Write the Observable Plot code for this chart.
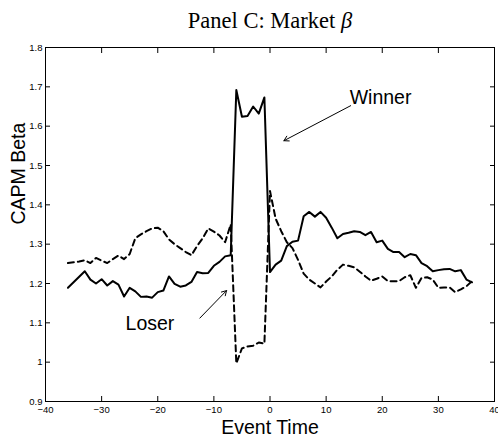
<!DOCTYPE html>
<html><head><meta charset="utf-8">
<script src="https://cdn.jsdelivr.net/npm/d3@7"></script>
<script src="https://cdn.jsdelivr.net/npm/@observablehq/plot@0.6"></script>
<style>body{margin:0;background:#fff} svg{display:block}</style>
</head><body><div id="chart"></div>
<script>
const titleText = "Panel C: Market β";
const xLabel = "Event Time";
const yLabel = "CAPM Beta";
const xTicks = [-40, -30, -20, -10, 0, 10, 20, 30, 40];
const yTicks = [0.9, 1.0, 1.1, 1.2, 1.3, 1.4, 1.5, 1.6, 1.7, 1.8];
const eventTime = [-36,-35,-34,-33,-32,-31,-30,-29,-28,-27,-26,-25,-24,-23,-22,-21,-20,-19,-18,-17,-16,-15,-14,-13,-12,-11,-10,-9,-8,-7,-6,-5,-4,-3,-2,-1,0,1,2,3,4,5,6,7,8,9,10,11,12,13,14,15,16,17,18,19,20,21,22,23,24,25,26,27,28,29,30,31,32,33,34,35,36];
const winner = [1.189,1.203,1.217,1.231,1.210,1.200,1.211,1.195,1.206,1.197,1.167,1.189,1.180,1.166,1.167,1.164,1.178,1.182,1.218,1.199,1.192,1.195,1.204,1.229,1.226,1.227,1.245,1.255,1.269,1.272,
  1.692,1.624,1.626,1.650,1.632,1.673,
  1.229,1.248,1.258,1.295,1.306,1.309,1.371,1.382,1.370,1.382,1.367,1.342,1.315,1.326,1.329,1.333,1.331,1.323,1.331,1.305,1.309,1.288,1.280,1.280,1.267,1.275,1.272,1.252,1.244,1.231,1.234,1.236,1.237,1.231,1.234,1.210,1.203];
const loser = [1.252,1.254,1.256,1.259,1.252,1.265,1.258,1.252,1.262,1.271,1.262,1.275,1.315,1.325,1.333,1.340,1.342,1.333,1.312,1.300,1.290,1.280,1.272,1.295,1.315,1.340,1.332,1.322,1.305,1.350,
  0.997,1.035,1.040,1.042,1.050,1.047,
  1.435,1.365,1.333,1.305,1.290,1.260,1.225,1.210,1.200,1.190,1.205,1.218,1.235,1.248,1.245,1.241,1.230,1.218,1.207,1.212,1.218,1.206,1.206,1.206,1.216,1.221,1.189,1.214,1.216,1.210,1.189,1.190,1.190,1.178,1.185,1.193,1.206];
const annotations = [
  {label: "Winner", x: 14.2, y: 1.673, x1: 14.37, y1: 1.652, x2: 2.48, y2: 1.563},
  {label: "Loser", x: -25.74, y: 1.098, x1: -12.5, y1: 1.112, x2: -7.74, y2: 1.182}
];

const winnerData = eventTime.map((t, i) => ({t, beta: winner[i]}));
const loserData = eventTime.map((t, i) => ({t, beta: loser[i]}));
const sans = "'Liberation Sans', Arial, Helvetica, sans-serif";

const plot = Plot.plot({
  width: 498, height: 439,
  marginLeft: 45, marginRight: 4, marginTop: 47, marginBottom: 38,
  x: {domain: [-40, 40]},
  y: {domain: [0.9, 1.8]},
  style: {fontFamily: sans, background: "white", color: "black", overflow: "visible"},
  marks: [
    Plot.frame({stroke: "black", strokeWidth: 1}),
    Plot.axisX(xTicks, {anchor: "bottom", tickSize: -5, tickPadding: 10, tickFormat: d3.format("d"), fontSize: 9.5, label: null}),
    Plot.axisX(xTicks, {anchor: "top", tickSize: -5, tickFormat: () => "", label: null}),
    Plot.axisY(yTicks, {anchor: "left", tickSize: -5, tickPadding: 8, tickFormat: d3.format("~g"), fontSize: 9.5, label: null}),
    Plot.axisY(yTicks, {anchor: "right", tickSize: -5, tickFormat: () => "", label: null}),
    Plot.line(loserData, {x: "t", y: "beta", stroke: "black", strokeWidth: 2, strokeDasharray: "6,4"}),
    Plot.line(winnerData, {x: "t", y: "beta", stroke: "black", strokeWidth: 2}),
    Plot.arrow(annotations, {x1: "x1", y1: "y1", x2: "x2", y2: "y2", stroke: "black", strokeWidth: 1, headLength: 8}),
    Plot.text(annotations, {x: "x", y: "y", text: "label", textAnchor: "start", fontSize: 19.5, fill: "black"}),
    Plot.text([titleText], {frameAnchor: "top", dy: -27, lineAnchor: "middle", fontSize: 22.5, fontFamily: "'Liberation Serif', 'Times New Roman', serif", fill: "black"}),
    Plot.text([xLabel], {frameAnchor: "bottom", dy: 26, lineAnchor: "middle", fontSize: 19.5, fill: "black"}),
    Plot.text([yLabel], {frameAnchor: "left", dx: -27, rotate: -90, lineAnchor: "middle", fontSize: 19.5, fill: "black"})
  ]
});
// italic beta in title
d3.select(plot).selectAll("text").each(function() {
  if (this.textContent === titleText) {
    const t = d3.select(this);
    t.text(null);
    t.append("tspan").text("Panel C: Market ");
    t.append("tspan").attr("font-style", "italic").text("β");
  }
});
document.getElementById("chart").append(plot);
</script>
</body></html>
